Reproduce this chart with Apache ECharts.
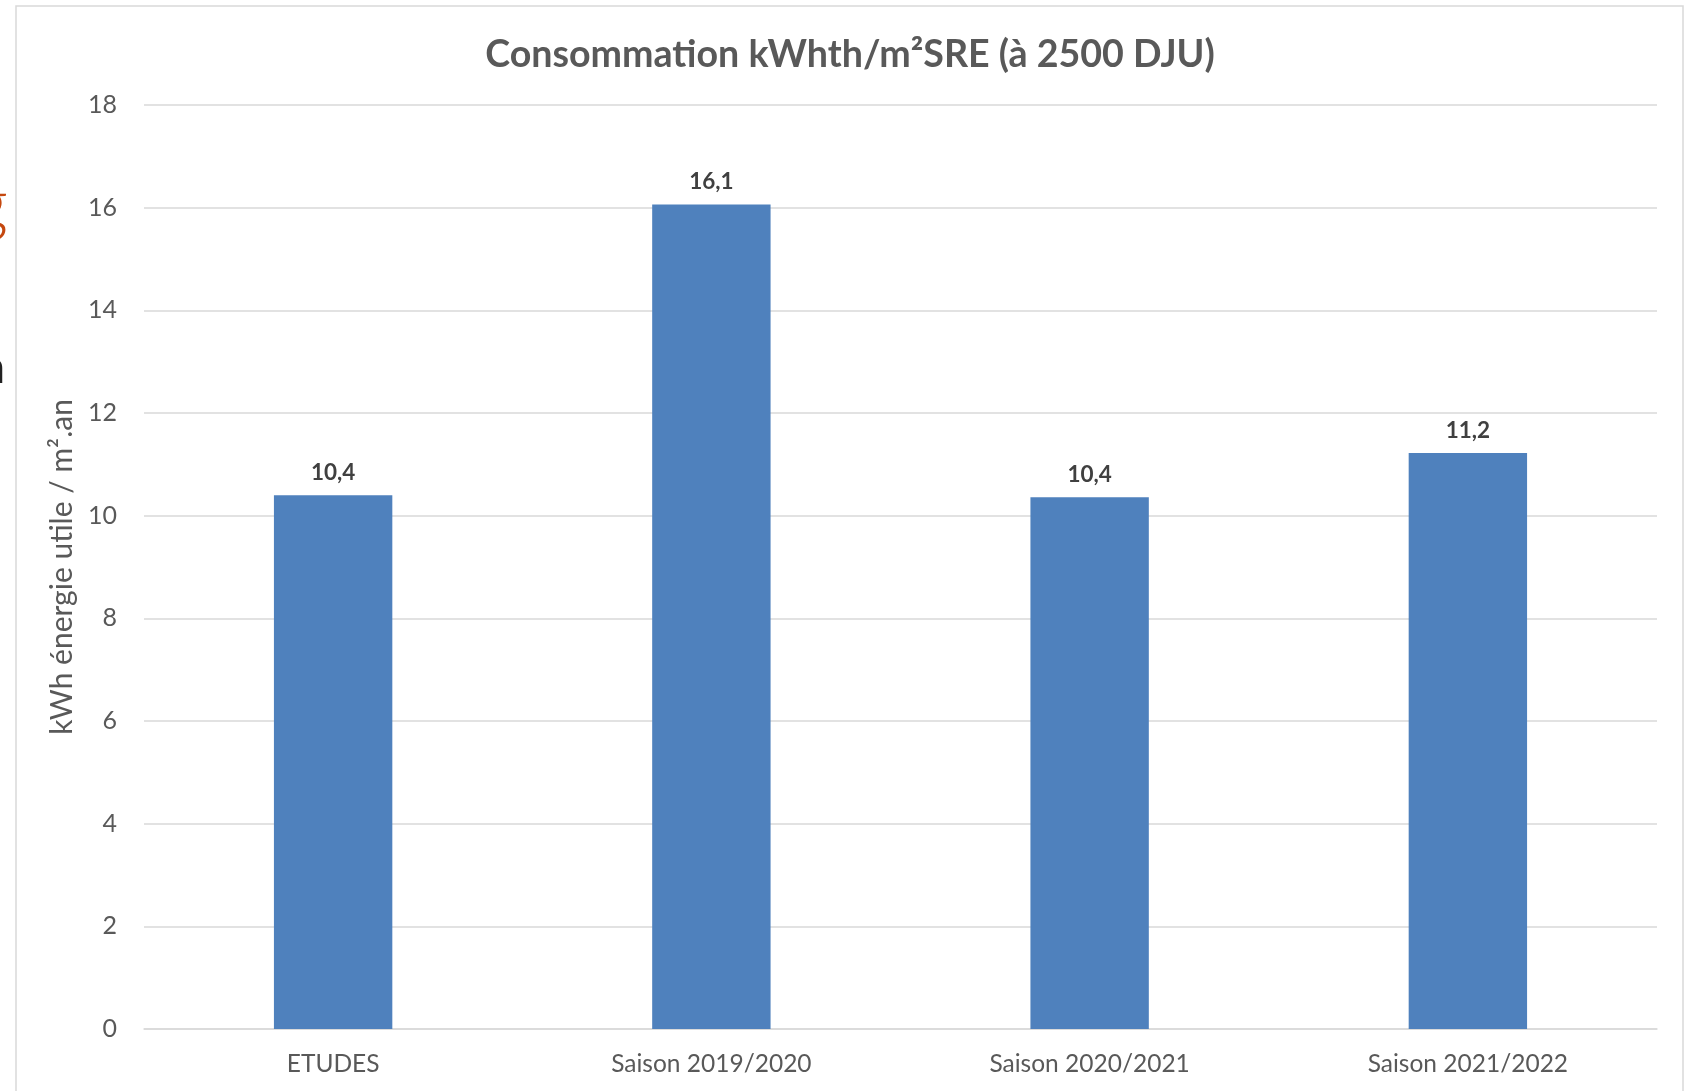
<!DOCTYPE html>
<html>
<head>
<meta charset="utf-8">
<script src="https://cdn.jsdelivr.net/npm/echarts@6/dist/echarts.min.js"></script>
<style>
  html, body { margin: 0; padding: 0; background: #ffffff; }
  #chart { width: 1689px; height: 1091px; }
</style>
</head>
<body>
<div id="chart"></div>
<script>
// Chart content
const chartTitle = 'Consommation kWhth/m²SRE (à 2500 DJU)';
const categories = ['ETUDES', 'Saison 2019/2020', 'Saison 2020/2021', 'Saison 2021/2022'];
const consumption = [10.4, 16.06, 10.36, 11.22];
const yAxisName = 'kWh énergie utile / m².an';
const yAxisRange = [0, 18];
const yAxisStep = 2;

const FONT = 'Lato, "Open Sans", sans-serif';
const TEXT_GREY = '#595959';
const GRID_GREY = '#d9d9d9';

// French decimal comma for the value labels
const fmt = v => v.toFixed(1).replace('.', ',');

const chart = echarts.init(document.getElementById('chart'), null, { renderer: 'canvas' });

chart.setOption({
  backgroundColor: '#ffffff',
  animation: false,
  textStyle: { fontFamily: FONT },
  title: {
    text: chartTitle,
    left: 845,
    top: 50,
    textAlign: 'center',
    textVerticalAlign: 'middle',
    textStyle: { fontFamily: FONT, fontSize: 37.6, fontWeight: 'bold', color: TEXT_GREY }
  },
  grid: { left: 144, right: 1689 - 1657, top: 105, bottom: 1091 - 1029, containLabel: false },
  xAxis: {
    type: 'category',
    data: categories,
    axisLine: { show: true, lineStyle: { color: GRID_GREY, width: 1.5 } },
    axisTick: { show: false },
    axisLabel: { color: TEXT_GREY, fontSize: 24.5, fontFamily: FONT, margin: 23 }
  },
  yAxis: {
    type: 'value',
    min: yAxisRange[0],
    max: yAxisRange[1],
    interval: yAxisStep,
    name: yAxisName,
    nameLocation: 'middle',
    nameGap: 58,
    nameTextStyle: { color: TEXT_GREY, fontSize: 30, fontFamily: FONT },
    axisLine: { show: false },
    axisTick: { show: false },
    axisLabel: { color: TEXT_GREY, fontSize: 25, fontFamily: FONT, margin: 27 },
    splitLine: { show: true, lineStyle: { color: GRID_GREY, width: 1.5 } }
  },
  series: [{
    type: 'bar',
    data: consumption,
    barWidth: '31.3%',
    itemStyle: { color: '#4f81bd' },
    label: {
      show: true,
      position: 'top',
      distance: 11,
      formatter: p => fmt(p.value),
      color: '#404040',
      fontSize: 22.5,
      fontWeight: 'bold',
      fontFamily: FONT
    }
  }],
  graphic: [
    // chart area frame
    {
      type: 'rect',
      shape: { x: 16, y: 6, width: 1667, height: 1110 },
      style: { fill: 'none', stroke: GRID_GREY, lineWidth: 1.5 },
      silent: true
    },
    // fragments of the surrounding page text at the left edge
    {
      type: 'text',
      style: { text: 'g', x: 8, y: 205, align: 'right', verticalAlign: 'middle',
               font: '300 72px ' + FONT, fill: '#c5480f' },
      silent: true
    },
    {
      type: 'text',
      style: { text: 'n', x: 6, y: 368, align: 'right', verticalAlign: 'middle',
               font: '300 48px ' + FONT, fill: '#222222' },
      silent: true
    }
  ]
});
</script>
</body>
</html>
